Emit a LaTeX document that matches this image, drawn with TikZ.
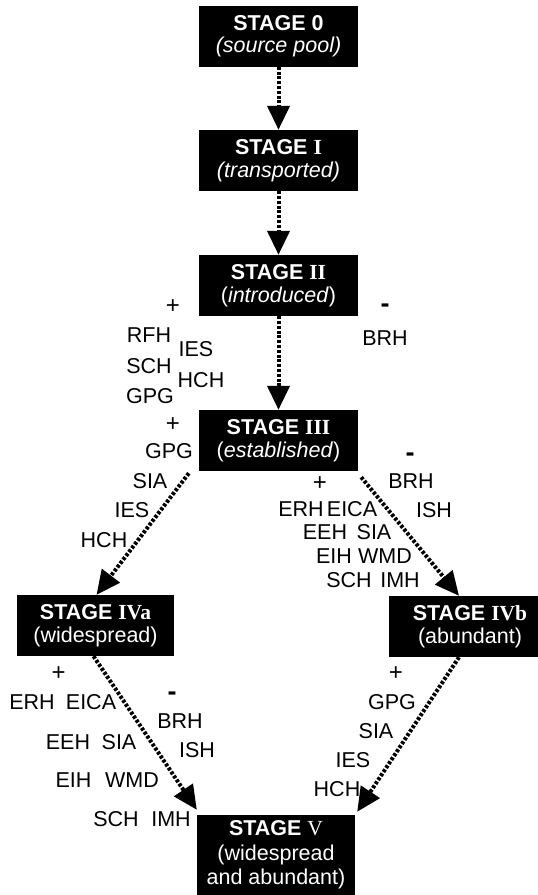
\documentclass[tikz,border=0pt]{standalone}
\usepackage{fontspec}
\setmainfont{Liberation Sans}
\newfontfamily\numfont{Liberation Serif}
\usetikzlibrary{arrows.meta}
\begin{document}
\begin{tikzpicture}[x=1pt,y=-1pt,
  stagebox/.style={fill=black,text=white,inner sep=0pt,align=center,
    minimum width=159pt,minimum height=61pt,font=\fontsize{21.5}{22.5}\selectfont},
  tag/.style={inner sep=0pt,font=\fontsize{21.5}{22}\selectfont},
  plus/.style={inner sep=0pt,font=\fontsize{24}{24}\selectfont},
  minus/.style={inner sep=0pt,font=\fontsize{27}{27}\selectfont\bfseries},
  flow/.style={line width=4pt,dash pattern=on 3pt off 1.8pt,
    -{Triangle[width=22pt,length=24pt]}}]
\useasboundingbox (0,0) rectangle (538,895);

% stage boxes
\node[stagebox] (s0) at (278.5,36) {\textbf{STAGE 0}\\\textit{(source pool)}};
\node[stagebox] (s1) at (278.5,160.5) {\textbf{STAGE {\numfont I}}\\\textit{(transported)}};
\node[stagebox] (s2) at (278.5,285.5) {\textbf{STAGE {\numfont II}}\\(\textit{introduced})};
\node[stagebox] (s3) at (278.5,440.5) {\textbf{STAGE {\numfont III}}\\(\textit{established})};
\node[stagebox,minimum width=157pt] (s4a) at (95.5,625.5) {\textbf{STAGE {\numfont IVa}}\\(widespread)};
\node[stagebox,minimum width=162pt] (s4b) at (470,626.5) {\textbf{STAGE {\numfont IVb}}\\(abundant)};
\node[stagebox,minimum width=158pt,minimum height=80pt,font=\fontsize{21.5}{24.5}\selectfont]
  (s5) at (276,855) {\textbf{STAGE} {\numfont V}\\(widespread\\and abundant)};

% transitions
\draw[flow] (s0) -- (s1);
\draw[flow] (s1) -- (s2);
\draw[flow] (s2) -- (s3);
\draw[flow] ([shift={(-10,2)}]s3.south west) -- ([xshift=1pt]s4a.north);
\draw[flow] ([shift={(3,6)}]s3.south east) -- ([xshift=-11pt]s4b.north);
\draw[flow] ([xshift=-2pt]s4a.south) -- ([shift={(0,-5)}]s5.north west);
\draw[flow] ([xshift=-11pt]s4b.south) -- ([shift={(2,-3)}]s5.north east);

% factors between stage II and stage III
\node[plus] (a0) at (173,306.5) {+};
\node[tag] (a1) at (149,335) {RFH};
\node[tag] (a2) at (149,366) {SCH};
\node[tag] (a3) at (150,396) {GPG};
\node[tag] (a4) at (196,349) {IES};
\node[tag] (a5) at (201,380) {HCH};
\node[minus] (a6) at (385,308) {-};
\node[tag] (a7) at (385,338) {BRH};

% factors between stage III and stage IVa
\node[plus] (b0) at (173,425) {+};
\node[tag] (b1) at (169,451.5) {GPG};
\node[tag] (b2) at (150,481) {SIA};
\node[tag] (b3) at (132,510) {IES};
\node[tag] (b4) at (104,540) {HCH};

% factors between stage III and stage IVb
\node[plus] (c0) at (320,484) {+};
\node[tag] (c1) at (301,509) {ERH};
\node[tag] (c2) at (352,509) {EICA};
\node[tag] (c3) at (325,532) {EEH};
\node[tag] (c4) at (374,532) {SIA};
\node[tag] (c5) at (334,556) {EIH};
\node[tag] (c6) at (385,556) {WMD};
\node[tag] (c7) at (349,580) {SCH};
\node[tag] (c8) at (400,580) {IMH};
\node[minus] (c9) at (410,457) {-};
\node[tag] (c10) at (411,481) {BRH};
\node[tag] (c11) at (434,510) {ISH};

% factors between stage IVa and stage V
\node[plus] (d0) at (58.6,674) {+};
\node[tag] (d1) at (32,702) {ERH};
\node[tag] (d2) at (91,702) {EICA};
\node[tag] (d3) at (68,742) {EEH};
\node[tag] (d4) at (119,742) {SIA};
\node[tag] (d5) at (73.5,780) {EIH};
\node[tag] (d6) at (132,780) {WMD};
\node[tag] (d7) at (116,819) {SCH};
\node[tag] (d8) at (171,819) {IMH};
\node[minus] (d9) at (172,696) {-};
\node[tag] (d10) at (180,721) {BRH};
\node[tag] (d11) at (197,750) {ISH};

% factors between stage IVb and stage V
\node[plus] (e0) at (396,674) {+};
\node[tag] (e1) at (392,702) {GPG};
\node[tag] (e2) at (376,731) {SIA};
\node[tag] (e3) at (353,760) {IES};
\node[tag] (e4) at (337,789) {HCH};
\end{tikzpicture}
\end{document}
